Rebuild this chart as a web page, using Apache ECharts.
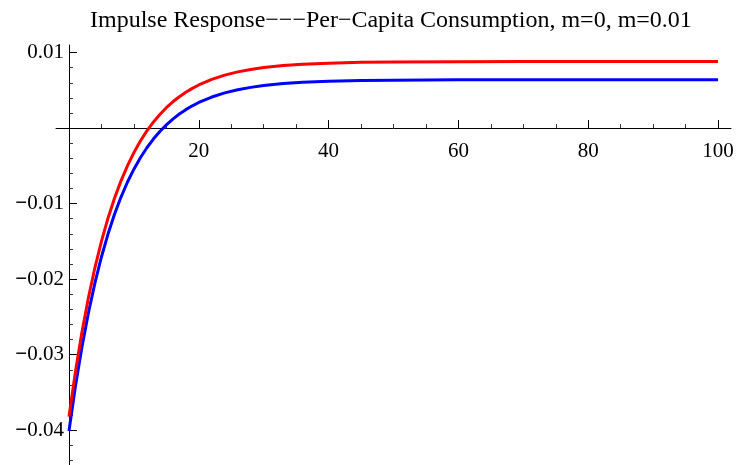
<!DOCTYPE html>
<html>
<head>
<meta charset="utf-8">
<script src="https://cdn.jsdelivr.net/npm/echarts@6/dist/echarts.min.js"></script>
<style>
html, body { margin: 0; padding: 0; background: #fff; }
#chart { width: 737px; height: 465px; }
</style>
</head>
<body>
<div id="chart"></div>
<script>
// period (x) and impulse response values
const periods = [0, 1, 2, 3, 4, 5, 6, 7, 8, 9, 10, 11, 12, 13, 14, 15, 16, 17, 18, 19, 20,
	22, 24, 26, 28, 30, 33, 36, 40, 45, 50, 60, 70, 80, 90, 100];
const respM0 = [-0.0401, -0.03415, -0.02897, -0.02444, -0.0205, -0.01706, -0.01406, -0.01144, -0.00916, -0.00717,
	-0.00544, -0.00392, -0.0026, -0.00145, -0.00045, 0.00043, 0.00119, 0.00186, 0.00244, 0.00295, 0.00339,
	0.00411, 0.00466, 0.00507, 0.00539, 0.00563, 0.00589, 0.00606, 0.0062, 0.0063, 0.00635,
	0.00639, 0.0064, 0.0064, 0.0064, 0.0064];
const respM001 = [-0.0382, -0.03222, -0.027, -0.02244, -0.01846, -0.01499, -0.01196, -0.00932, -0.00702, -0.005,
	-0.00325, -0.00171, -0.00037, 0.00079, 0.00181, 0.0027, 0.00348, 0.00415, 0.00475, 0.00526, 0.00571,
	0.00645, 0.00701, 0.00744, 0.00776, 0.00801, 0.00828, 0.00845, 0.0086, 0.0087, 0.00875,
	0.00879, 0.0088, 0.0088, 0.0088, 0.0088];

// tick labels / tick positions
const xMajor = [20, 40, 60, 80, 100];
const xMinor = [5, 10, 15, 25, 30, 35, 45, 50, 55, 65, 70, 75, 85, 90, 95];
const yMajor = [-0.04, -0.03, -0.02, -0.01, 0.01];
const yMinor = [-0.044, -0.042, -0.038, -0.036, -0.034, -0.032, -0.028, -0.026, -0.024, -0.022,
	-0.018, -0.016, -0.014, -0.012, -0.008, -0.006, -0.004, -0.002, 0.002, 0.004, 0.006, 0.008];

const titleText = 'Impulse Response\u2212\u2212\u2212Per\u2212Capita Consumption, m=0, m=0.01';

const serif = 'Liberation Serif';

function pairs(xs, ys) {
	return xs.map((x, i) => [x, ys[i]]);
}

const W = 737, H = 465;
const gridLeft = 56, gridRight = 6, gridTop = 45, gridBottom = 0;
const xMin = -2, xMax = 102, yMin = -0.0446, yMax = 0.011;

// axes cross at (0,0): shift them in from the grid edges so labels follow the lines
const gridW = W - gridLeft - gridRight;
const gridH = H - gridTop - gridBottom;
const xAxisOffset = -(gridH * (0 - yMin) / (yMax - yMin));
const yAxisOffset = -(gridW * (0 - xMin) / (xMax - xMin));

const myChart = echarts.init(document.getElementById('chart'));

const baseX = {
	type: 'value',
	position: 'bottom',
	min: xMin,
	max: xMax,
	offset: xAxisOffset,
	splitLine: { show: false },
};
const baseY = {
	type: 'value',
	position: 'left',
	min: yMin,
	max: yMax,
	offset: yAxisOffset,
	splitLine: { show: false },
};

const option = {
	animation: false,
	title: {
		text: titleText,
		left: 85,
		top: 4,
		textStyle: {
			fontFamily: serif,
			fontSize: 24,
			fontWeight: 'normal',
			color: '#000'
		}
	},
	grid: {
		left: gridLeft,
		right: gridRight,
		top: gridTop,
		bottom: gridBottom,
		containLabel: false,
		outerBoundsMode: 'none'
	},
	xAxis: [
		Object.assign({}, baseX, {
			axisLine: { onZero: false, lineStyle: { color: '#000', width: 1 } },
			axisTick: {
				inside: true,
				length: 8,
				customValues: xMajor,
				lineStyle: { color: '#000' }
			},
			axisLabel: {
				customValues: xMajor,
				margin: 13,
				color: '#000',
				fontFamily: serif,
				fontSize: 21
			}
		}),
		Object.assign({}, baseX, {
			axisLine: { show: false, onZero: false },
			axisTick: {
				inside: true,
				length: 4,
				customValues: xMinor,
				lineStyle: { color: '#333' }
			},
			axisLabel: { show: false }
		})
	],
	yAxis: [
		Object.assign({}, baseY, {
			axisLine: { onZero: false, lineStyle: { color: '#000', width: 1 } },
			axisTick: {
				inside: true,
				length: 8,
				customValues: yMajor,
				lineStyle: { color: '#000' }
			},
			axisLabel: {
				customValues: yMajor,
				margin: 5,
				color: '#000',
				fontFamily: serif,
				fontSize: 21,
				formatter: function (v) {
					return v < 0 ? '{m|\u2212}' + Math.abs(v).toFixed(2) : v.toFixed(2);
				},
				rich: {
					m: { fontFamily: serif, fontSize: 21, fontWeight: 'bold', color: '#000' }
				}
			}
		}),
		Object.assign({}, baseY, {
			axisLine: { show: false, onZero: false },
			axisTick: {
				inside: true,
				length: 4,
				customValues: yMinor,
				lineStyle: { color: '#333' }
			},
			axisLabel: { show: false }
		})
	],
	series: [
		{
			name: 'm=0',
			type: 'line',
			data: pairs(periods, respM0),
			showSymbol: false,
			lineStyle: { color: '#0000ff', width: 3 },
			z: 3
		},
		{
			name: 'm=0.01',
			type: 'line',
			data: pairs(periods, respM001),
			showSymbol: false,
			lineStyle: { color: '#ff0000', width: 3 },
			z: 4
		}
	]
};
myChart.setOption(option);
</script>
</body>
</html>
